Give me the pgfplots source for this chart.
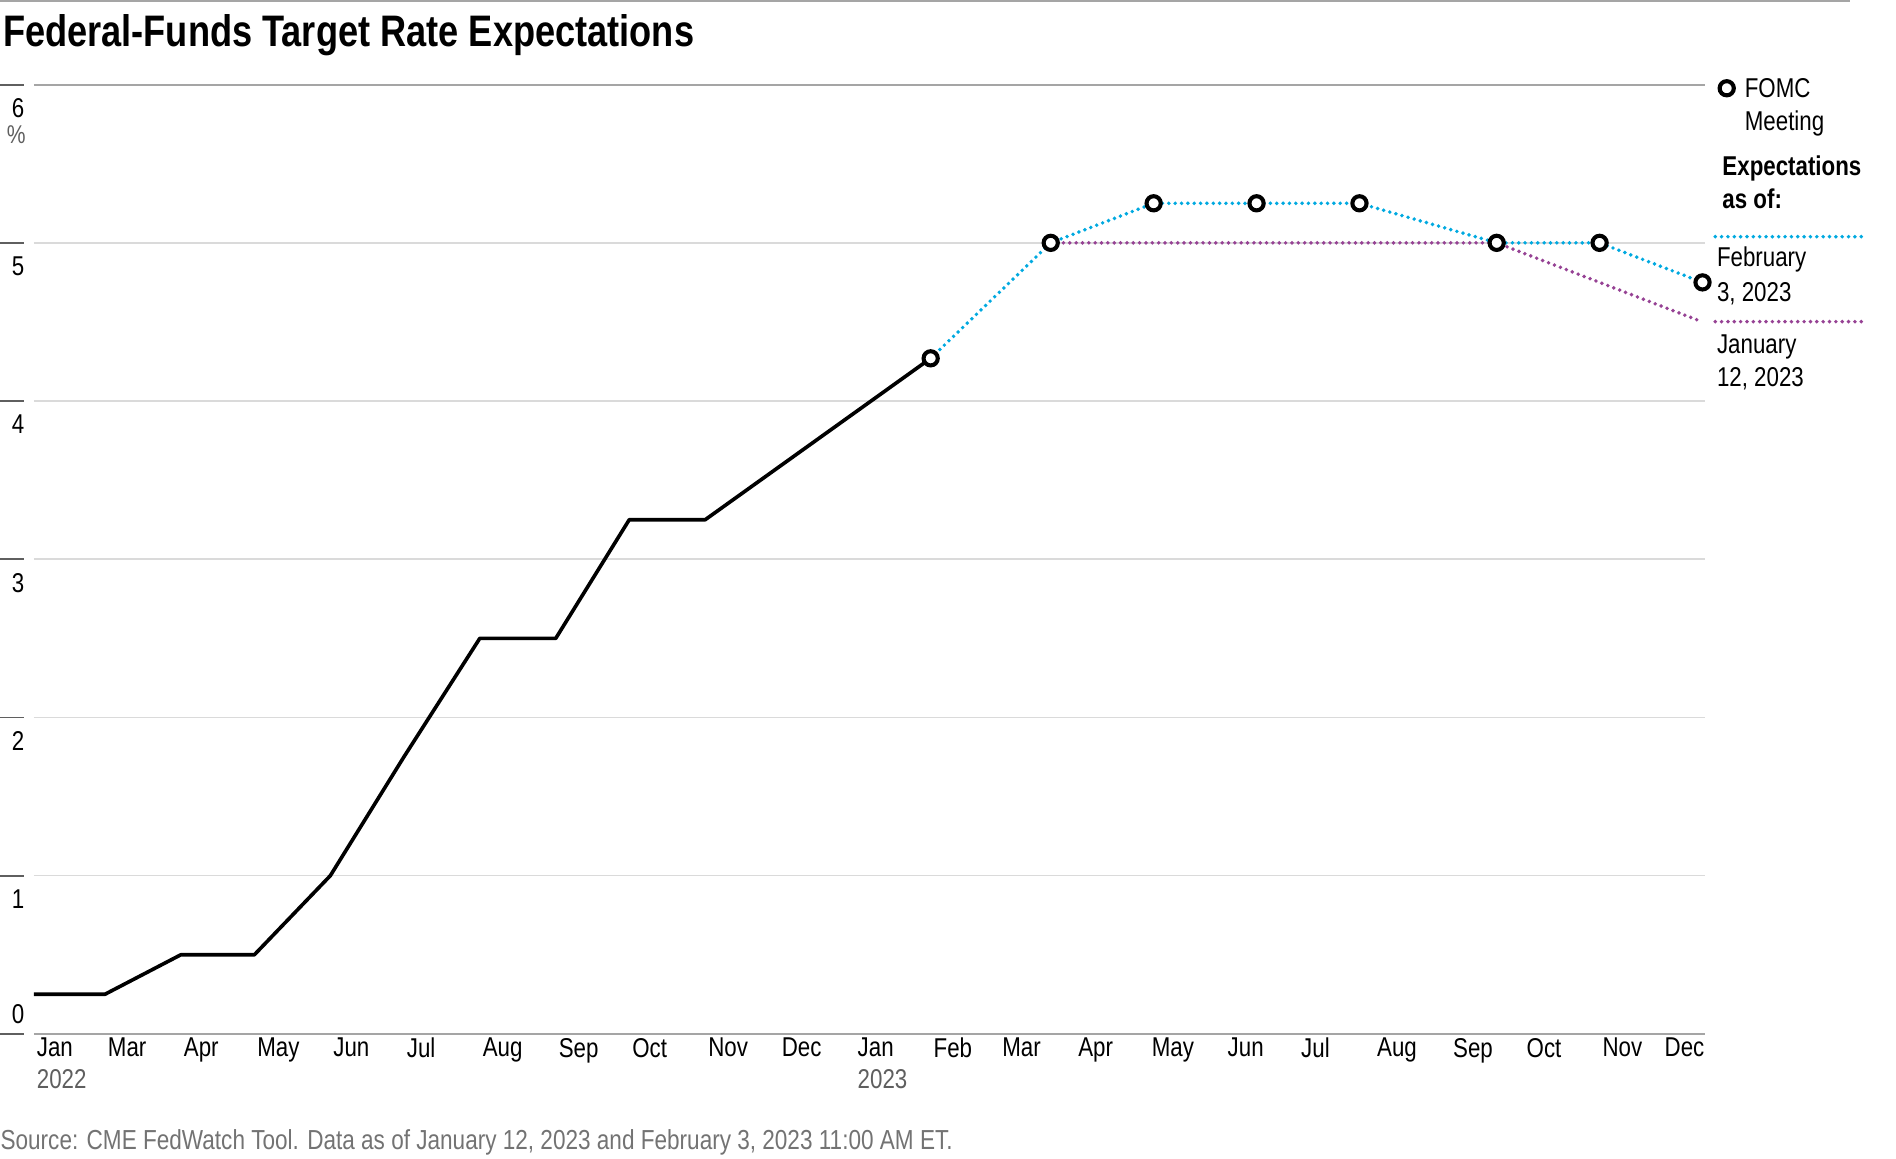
\documentclass[border=0pt]{standalone}
\usepackage{fontspec}
\setmainfont{Liberation Sans}[FakeStretch=0.82]
\usepackage{pgfplots}
\pgfplotsset{compat=1.18}
\definecolor{fedblue}{RGB}{0,169,224}
\definecolor{fedpurple}{RGB}{150,66,148}
\definecolor{gridgray}{RGB}{218,218,218}
\definecolor{axisgray}{RGB}{165,165,165}
\definecolor{tickdark}{RGB}{95,95,95}
\definecolor{labgray}{RGB}{95,95,95}
\definecolor{srcgray}{RGB}{115,115,115}
\begin{document}
\begin{tikzpicture}[x=1pt,y=1pt]
\useasboundingbox (0,0) rectangle (627.2,383.2);
\draw[axisgray, line width=0.6pt] (0,382.9) -- (612,382.9);
\node[anchor=base west, inner sep=0pt, font=\fontsize{14.6}{16}\selectfont\bfseries] at (0.8,367.8) {Federal-Funds Target Rate Expectations};
\begin{axis}[
  at={(11.2pt,41.2pt)}, anchor=south west, scale only axis,
  width=552.8pt, height=314pt,
  xmin=30, xmax=712, ymin=0, ymax=6,
  clip=false,
  axis line style={draw=none},
  major tick length=0pt,
  tick style={draw=none},
  font=\fontsize{9}{10.4}\selectfont,
  ytick={1,2,3,4,5},
  yticklabels={1,2,3,4,5},
  extra y ticks={0,6},
  extra y tick labels={\raisebox{14.2pt}{0},6},
  extra y tick style={grid style={axisgray, line width=0.7pt}},
  ymajorgrids,
  grid style={gridgray, line width=0.5pt},
  yticklabel style={anchor=base east, inner sep=0pt, xshift=-3.0pt, yshift=-10.9pt},
  xtick={30,59,90,120,151,181,212,243,273,304,334,365,396,424,455,485,516,546,577,608,638,669},
  xticklabels={{Jan\\\textcolor{labgray}{2022}},Mar,Apr,May,Jun,Jul,Aug,Sep,Oct,Nov,Dec,{Jan\\\textcolor{labgray}{2023}},Feb,Mar,Apr,May,Jun,Jul,Aug,Sep,Oct,Nov},
  xticklabel style={anchor=north west, inner sep=0pt, xshift=0.8pt, yshift=-1.2pt, align=left},
  extra x ticks={712},
  extra x tick labels={Dec},
  extra x tick style={xticklabel style={anchor=north east, xshift=-0.8pt}},
]
% January 12, 2023 expectations
\addplot[fedpurple, line width=1.3pt, line cap=round, dash pattern=on 0pt off 2.1pt] coordinates {
  (445,5.0) (627,5.0) (711,4.5)};
% February 3, 2023 expectations
\addplot[fedblue, line width=1.3pt, line cap=round, dash pattern=on 0pt off 2.1pt] coordinates {
  (396,4.27) (445,5.0) (487,5.25) (529,5.25) (571,5.25) (627,5.0) (669,5.0) (711,4.75)};
% realised target rate
\addplot[black, line width=1.2pt, line join=round] coordinates {
  (30,0.25) (59,0.25) (90,0.5) (120,0.5) (151,1.0) (181,1.75) (212,2.5) (243,2.5)
  (273,3.25) (304,3.25) (396,4.27)};
% FOMC meetings
\addplot[only marks, mark=*, mark size=2.35pt, mark options={fill=white, draw=black, line width=1.35pt}] coordinates {
  (396,4.27) (445,5.0) (487,5.25) (529,5.25) (571,5.25) (627,5.0) (669,5.0) (711,4.75)};
\pgfplotsinvokeforeach{0,1,2,3,4,5,6}{
  \draw[tickdark, line width=0.6pt] ([xshift=-11.2pt]axis cs:30,#1) -- ([xshift=-3.2pt]axis cs:30,#1);
}
\end{axis}
\node[anchor=center, inner sep=0pt, text=labgray, font=\fontsize{8.5}{9}\selectfont] at (5.4,338.6) {\%};
% legend
\draw[black, line width=1.35pt, fill=white] (571.2,354.0) circle (2.35pt);
\begin{scope}[every node/.style={anchor=base west, inner sep=0pt, font=\fontsize{9}{10.4}\selectfont}]
\node at (577.0,351.0) {FOMC};
\node at (577.0,340.0) {Meeting};
\node[font=\fontsize{9}{10.4}\selectfont\bfseries] at (569.6,325.3) {Expectations};
\node[font=\fontsize{9}{10.4}\selectfont\bfseries] at (569.6,314.3) {as of:};
\node at (567.8,295.0) {February};
\node at (567.8,283.4) {3, 2023};
\node at (567.8,266.3) {January};
\node at (567.8,255.3) {12, 2023};
\node[text=srcgray, font=\fontsize{9.1}{10.4}\selectfont] at (0,2.8) {Source: CME FedWatch Tool. Data as of January 12, 2023 and February 3, 2023 11:00 AM ET.};
\end{scope}
\draw[fedblue, line width=1.3pt, line cap=round, dash pattern=on 0pt off 2.1pt] (567.4,304.9) -- (616.4,304.9);
\draw[fedpurple, line width=1.3pt, line cap=round, dash pattern=on 0pt off 2.1pt] (567.4,276.8) -- (616.4,276.8);
\end{tikzpicture}
\end{document}
